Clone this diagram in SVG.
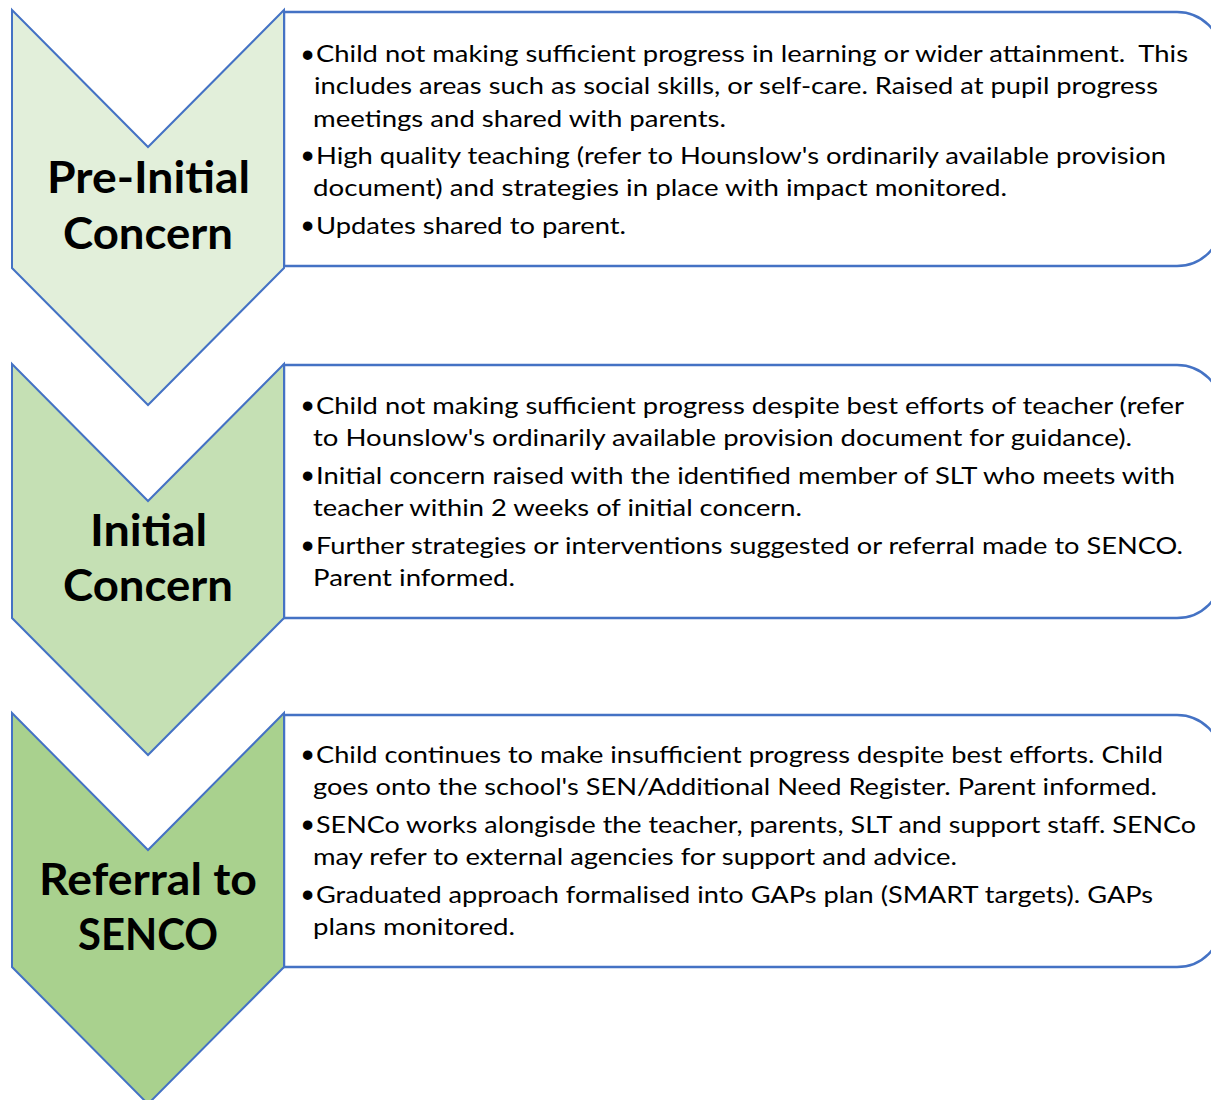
<svg xmlns="http://www.w3.org/2000/svg" width="1211" height="1100" viewBox="0 0 1211 1100">
<style>
.chev{stroke:#4472C4;stroke-width:2;stroke-linejoin:miter}
.c1{fill:#E2EFDA}.c2{fill:#C5E0B4}.c3{fill:#A9D18E}
.box{fill:#FFFFFF;stroke:#4472C4;stroke-width:2.5}
.title{font-family:Lato,"Liberation Sans",sans-serif;font-weight:bold;font-size:43px;fill:#000;text-anchor:start}
.body{font-family:Lato,"Liberation Sans",sans-serif;font-size:24px;fill:#000}
.bul{font-family:"Liberation Sans",sans-serif;font-size:35px;fill:#000}
</style>
<rect width="1211" height="1100" fill="#FFFFFF"/>

<g id="box1">
<path class="box" d="M284,12 H1177 A45,45 0 0 1 1222,57 V221 A45,45 0 0 1 1177,266 H284 Z"/>
<text class="bul" x="301.5" y="66.5">•</text>
<text class="body" x="316" y="62" textLength="872" lengthAdjust="spacingAndGlyphs">Child not making sufficient progress in learning or wider attainment.&#160; This</text>
<text class="body" x="314" y="94" textLength="844" lengthAdjust="spacingAndGlyphs">includes areas such as social skills, or self-care. Raised at pupil progress</text>
<text class="body" x="313" y="126.5" textLength="413" lengthAdjust="spacingAndGlyphs">meetings and shared with parents.</text>
<text class="bul" x="301.5" y="168">•</text>
<text class="body" x="316" y="163.5" textLength="850" lengthAdjust="spacingAndGlyphs">High quality teaching (refer to Hounslow's ordinarily available provision</text>
<text class="body" x="313" y="196" textLength="694" lengthAdjust="spacingAndGlyphs">document) and strategies in place with impact monitored.</text>
<text class="bul" x="301.5" y="238">•</text>
<text class="body" x="316" y="233.5" textLength="310" lengthAdjust="spacingAndGlyphs">Updates shared to parent.</text>
</g>

<g id="box2">
<path class="box" d="M284,365 H1177 A45,45 0 0 1 1222,410 V573 A45,45 0 0 1 1177,618 H284 Z"/>
<text class="bul" x="301.5" y="418">•</text>
<text class="body" x="316" y="413.5" textLength="868" lengthAdjust="spacingAndGlyphs">Child not making sufficient progress despite best efforts of teacher (refer</text>
<text class="body" x="313" y="445.5" textLength="819" lengthAdjust="spacingAndGlyphs">to Hounslow's ordinarily available provision document for guidance).</text>
<text class="bul" x="301.5" y="488">•</text>
<text class="body" x="316" y="483.5" textLength="859" lengthAdjust="spacingAndGlyphs">Initial concern raised with the identified member of SLT who meets with</text>
<text class="body" x="313" y="515.5" textLength="489" lengthAdjust="spacingAndGlyphs">teacher within 2 weeks of initial concern.</text>
<text class="bul" x="301.5" y="558">•</text>
<text class="body" x="316" y="553.5" textLength="867" lengthAdjust="spacingAndGlyphs">Further strategies or interventions suggested or referral made to SENCO.</text>
<text class="body" x="313" y="585.5" textLength="202" lengthAdjust="spacingAndGlyphs">Parent informed.</text>
</g>

<g id="box3">
<path class="box" d="M284,715 H1177 A45,45 0 0 1 1222,760 V922 A45,45 0 0 1 1177,967 H284 Z"/>
<text class="bul" x="301.5" y="767">•</text>
<text class="body" x="316" y="762.5" textLength="847" lengthAdjust="spacingAndGlyphs">Child continues to make insufficient progress despite best efforts. Child</text>
<text class="body" x="313" y="794.5" textLength="844" lengthAdjust="spacingAndGlyphs">goes onto the school's SEN/Additional Need Register. Parent informed.</text>
<text class="bul" x="301.5" y="837">•</text>
<text class="body" x="316" y="832.5" textLength="880" lengthAdjust="spacingAndGlyphs">SENCo works alongisde the teacher, parents, SLT and support staff. SENCo</text>
<text class="body" x="313" y="864.5" textLength="644" lengthAdjust="spacingAndGlyphs">may refer to external agencies for support and advice.</text>
<text class="bul" x="301.5" y="907">•</text>
<text class="body" x="316" y="902.5" textLength="837" lengthAdjust="spacingAndGlyphs">Graduated approach formalised into GAPs plan (SMART targets). GAPs</text>
<text class="body" x="313" y="934.5" textLength="202" lengthAdjust="spacingAndGlyphs">plans monitored.</text>
</g>

<g id="step1">
<path class="chev c1" d="M12,10 L148,147 L284,10 L284,268 L148,405 L12,268 Z"/>
<text class="title" x="47" y="193" textLength="203" lengthAdjust="spacingAndGlyphs">Pre-Initial</text>
<text class="title" x="63" y="249" textLength="170" lengthAdjust="spacingAndGlyphs">Concern</text>
</g>

<g id="step2">
<path class="chev c2" d="M12,364 L148,501 L284,364 L284,618 L148,755 L12,618 Z"/>
<text class="title" x="90" y="546" textLength="117" lengthAdjust="spacingAndGlyphs">Initial</text>
<text class="title" x="63" y="601" textLength="170" lengthAdjust="spacingAndGlyphs">Concern</text>
</g>

<g id="step3">
<path class="chev c3" d="M12,713 L148,850 L284,713 L284,967 L148,1104 L12,967 Z"/>
<text class="title" x="39" y="895" textLength="218" lengthAdjust="spacingAndGlyphs">Referral to</text>
<text class="title" x="78" y="950" textLength="140" lengthAdjust="spacingAndGlyphs">SENCO</text>
</g>

<g id="connectors"/>
</svg>
